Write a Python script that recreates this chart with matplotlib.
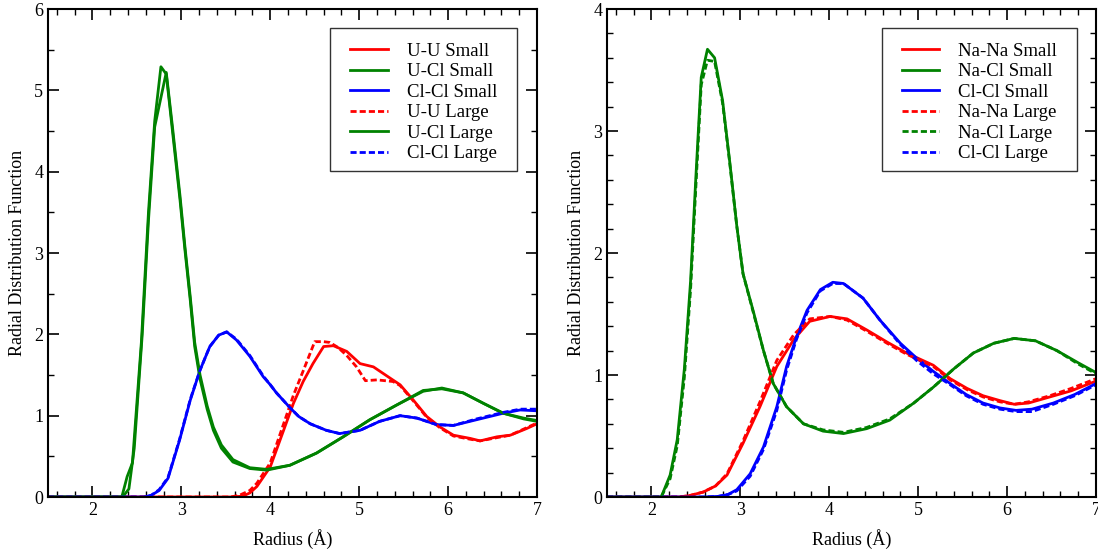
import matplotlib
matplotlib.use("Agg")
import matplotlib.pyplot as plt
from matplotlib.patches import Rectangle
from matplotlib.ticker import MultipleLocator

RED = "#ff0000"
GREEN = "#008200"
BLUE = "#0000ff"

# ---- left panel: UCl3 ----
r_uu_s = [1.5, 3.55, 3.69, 3.77, 3.85, 4.0, 4.15, 4.26, 4.37, 4.48, 4.60, 4.71, 4.86, 5.01, 5.16, 5.35, 5.46,
          5.61, 5.76, 5.91, 6.06, 6.25, 6.36, 6.55, 6.70, 6.88, 7.0]
g_uu_s = [0, 0, 0.01, 0.05, 0.13, 0.37, 0.82, 1.15, 1.42, 1.64, 1.85, 1.86, 1.79, 1.64, 1.60, 1.46, 1.38,
          1.19, 0.99, 0.86, 0.76, 0.72, 0.69, 0.74, 0.76, 0.84, 0.90]
r_uu_l = [1.5, 3.55, 3.65, 3.77, 3.85, 4.0, 4.15, 4.26, 4.37, 4.50, 4.60, 4.67, 4.76, 4.86, 4.97, 5.07, 5.20,
          5.38, 5.46, 5.61, 5.76, 5.91, 6.06, 6.25, 6.36, 6.55, 6.70, 6.88, 7.0]
g_uu_l = [0, 0, 0.02, 0.08, 0.17, 0.42, 0.90, 1.25, 1.55, 1.91, 1.91, 1.90, 1.84, 1.74, 1.60, 1.43, 1.44,
          1.42, 1.37, 1.18, 0.98, 0.85, 0.75, 0.71, 0.69, 0.73, 0.76, 0.85, 0.91]

r_ucl_s = [1.5, 2.33, 2.39, 2.45, 2.55, 2.63, 2.70, 2.77, 2.83, 2.90, 2.985, 3.04, 3.10, 3.15, 3.21, 3.29,
           3.36, 3.45, 3.58, 3.77, 3.96, 4.22, 4.52, 4.82, 5.12, 5.42, 5.72, 5.93, 6.17, 6.40, 6.62, 6.85, 7.0]
g_ucl_s = [0, 0, 0.25, 0.42, 1.90, 3.50, 4.62, 5.29, 5.20, 4.50, 3.65, 3.04, 2.42, 1.85, 1.45, 1.08,
           0.82, 0.60, 0.43, 0.35, 0.33, 0.39, 0.54, 0.74, 0.95, 1.13, 1.30, 1.34, 1.28, 1.15, 1.03, 0.97, 0.94]
r_ucl_l = [1.5, 2.34, 2.41, 2.47, 2.56, 2.63, 2.70, 2.83, 2.90, 2.985, 3.04, 3.10, 3.15, 3.21, 3.29,
           3.36, 3.45, 3.58, 3.77, 3.96, 4.22, 4.52, 4.82, 5.12, 5.42, 5.72, 5.93, 6.17, 6.40, 6.62, 6.85, 7.0]
g_ucl_l = [0, 0, 0.10, 0.60, 2.00, 3.40, 4.55, 5.22, 4.55, 3.70, 3.08, 2.46, 1.90, 1.50, 1.12,
           0.86, 0.64, 0.46, 0.36, 0.34, 0.39, 0.54, 0.74, 0.95, 1.13, 1.31, 1.33, 1.28, 1.15, 1.03, 0.96, 0.93]

r_clcl_u_s = [1.5, 2.58, 2.66, 2.75, 2.85, 2.98, 3.10, 3.21, 3.32, 3.42, 3.51, 3.62, 3.77, 3.92, 4.0, 4.07,
              4.22, 4.32, 4.45, 4.63, 4.78, 5.01, 5.23, 5.46, 5.65, 5.87, 6.06, 6.32, 6.62, 6.81, 7.0]
g_clcl_u_s = [0, 0, 0.02, 0.08, 0.23, 0.70, 1.19, 1.56, 1.85, 1.99, 2.03, 1.93, 1.73, 1.48, 1.38, 1.28,
              1.10, 0.99, 0.90, 0.82, 0.78, 0.82, 0.93, 1.00, 0.97, 0.89, 0.88, 0.95, 1.03, 1.07, 1.06]
g_clcl_u_l = [0, 0, 0.02, 0.09, 0.24, 0.71, 1.20, 1.56, 1.85, 1.99, 2.03, 1.94, 1.74, 1.49, 1.38, 1.28,
              1.10, 0.99, 0.90, 0.82, 0.78, 0.82, 0.93, 1.00, 0.97, 0.89, 0.88, 0.96, 1.04, 1.08, 1.08]

# ---- right panel: NaCl ----
r_nana_s = [1.5, 2.30, 2.42, 2.58, 2.72, 2.85, 3.03, 3.22, 3.41, 3.60, 3.78, 4.01, 4.20, 4.42, 4.65, 4.87,
            5.17, 5.36, 5.55, 5.73, 5.92, 6.08, 6.24, 6.48, 6.72, 7.0]
g_nana_s = [0, 0, 0.01, 0.04, 0.09, 0.18, 0.44, 0.74, 1.07, 1.29, 1.44, 1.48, 1.46, 1.37, 1.27, 1.18,
            1.08, 0.97, 0.89, 0.83, 0.79, 0.76, 0.77, 0.82, 0.87, 0.95]
g_nana_l = [0, 0, 0.01, 0.04, 0.09, 0.19, 0.46, 0.78, 1.12, 1.33, 1.46, 1.48, 1.45, 1.36, 1.26, 1.17,
            1.07, 0.96, 0.88, 0.82, 0.78, 0.76, 0.78, 0.83, 0.89, 0.97]

r_nacl_s = [1.5, 2.11, 2.21, 2.29, 2.37, 2.44, 2.50, 2.56, 2.63, 2.71, 2.80, 2.88, 2.96, 3.03, 3.15, 3.26,
            3.37, 3.52, 3.71, 3.93, 4.16, 4.42, 4.68, 4.95, 5.17, 5.40, 5.62, 5.85, 6.08, 6.32,
            6.56, 6.80, 7.0]
g_nacl_s = [0, 0, 0.18, 0.47, 1.05, 1.77, 2.63, 3.44, 3.67, 3.60, 3.25, 2.75, 2.22, 1.83, 1.51, 1.20,
            0.93, 0.74, 0.60, 0.54, 0.52, 0.56, 0.63, 0.77, 0.90, 1.05, 1.18, 1.26, 1.30, 1.28,
            1.20, 1.10, 1.02]
g_nacl_l = [0, 0, 0.15, 0.42, 0.98, 1.70, 2.55, 3.38, 3.58, 3.57, 3.23, 2.74, 2.22, 1.83, 1.50, 1.20,
            0.93, 0.74, 0.60, 0.55, 0.53, 0.57, 0.64, 0.77, 0.90, 1.05, 1.18, 1.26, 1.30, 1.28,
            1.20, 1.09, 1.01]

r_clcl_n_s = [1.5, 2.60, 2.75, 2.86, 2.96, 3.11, 3.26, 3.41, 3.52, 3.63, 3.75, 3.90, 4.04, 4.16, 4.38, 4.57,
              4.80, 4.98, 5.17, 5.36, 5.54, 5.73, 5.92, 6.10, 6.28, 6.52, 6.76, 7.0]
g_clcl_n_s = [0, 0, 0.005, 0.02, 0.06, 0.19, 0.41, 0.74, 1.07, 1.31, 1.53, 1.70, 1.76, 1.75, 1.63, 1.45,
              1.26, 1.14, 1.03, 0.93, 0.84, 0.77, 0.73, 0.71, 0.72, 0.77, 0.84, 0.93]
g_clcl_n_l = [0, 0, 0.005, 0.02, 0.05, 0.17, 0.39, 0.71, 1.04, 1.29, 1.51, 1.69, 1.75, 1.75, 1.63, 1.45,
              1.25, 1.12, 1.01, 0.92, 0.83, 0.76, 0.72, 0.70, 0.70, 0.76, 0.83, 0.92]

plt.rcParams['font.family'] = ['Liberation Serif', 'DejaVu Serif']
plt.rcParams['font.size'] = 12

DASH = (0, (2.2, 1.1))
LW = 2.0

fig = plt.figure(figsize=(10.98, 5.51), dpi=100)
ax1 = fig.add_axes([48/1098, 54/551, 489/1098, 488/551])
ax2 = fig.add_axes([607/1098, 54/551, 489/1098, 488/551])

ax1.plot(r_uu_s, g_uu_s, color=RED, lw=LW, label="U-U Small")
ax1.plot(r_ucl_s, g_ucl_s, color=GREEN, lw=LW, label="U-Cl Small")
ax1.plot(r_clcl_u_s, g_clcl_u_s, color=BLUE, lw=LW, label="Cl-Cl Small")
ax1.plot(r_uu_l, g_uu_l, color=RED, lw=LW, ls=DASH, label="U-U Large")
ax1.plot(r_ucl_l, g_ucl_l, color=GREEN, lw=LW, label="U-Cl Large")
ax1.plot(r_clcl_u_s, g_clcl_u_l, color=BLUE, lw=LW, ls=DASH, label="Cl-Cl Large")

ax2.plot(r_nana_s, g_nana_s, color=RED, lw=LW, label="Na-Na Small")
ax2.plot(r_nacl_s, g_nacl_s, color=GREEN, lw=LW, label="Na-Cl Small")
ax2.plot(r_clcl_n_s, g_clcl_n_s, color=BLUE, lw=LW, label="Cl-Cl Small")
ax2.plot(r_nana_s, g_nana_l, color=RED, lw=LW, ls=DASH, label="Na-Na Large")
ax2.plot(r_nacl_s, g_nacl_l, color=GREEN, lw=LW, ls=DASH, label="Na-Cl Large")
ax2.plot(r_clcl_n_s, g_clcl_n_l, color=BLUE, lw=LW, ls=DASH, label="Cl-Cl Large")

# legend box (x0, width) and where the handles start, in axes fractions
panels = [(ax1, 6, 0.5, 0.5767, 0.3824, 0.6176),
          (ax2, 4, 0.2, 0.5616, 0.3996, 0.6025)]
for ax, ymax, ymin_step, bx, bw, hx in panels:
    ax.set_xlim(1.5, 7)
    ax.set_ylim(0, ymax)
    ax.xaxis.set_major_locator(MultipleLocator(1))
    ax.xaxis.set_minor_locator(MultipleLocator(0.2))
    ax.yaxis.set_major_locator(MultipleLocator(1))
    ax.yaxis.set_minor_locator(MultipleLocator(ymin_step))
    ax.tick_params(which='both', direction='in', top=True, right=True, labelsize=13)
    ax.tick_params(which='major', length=8, width=1.2)
    ax.tick_params(which='minor', length=4, width=1.0)
    for sp in ax.spines.values():
        sp.set_linewidth(1.5)
    ax.set_xlabel("Radius (Å)", fontsize=13, labelpad=7)
    ax.set_ylabel("Radial Distribution Function", fontsize=13, labelpad=6)
    ax.add_patch(Rectangle((bx, 0.668), bw, 0.293, transform=ax.transAxes,
                           facecolor='white', edgecolor='#333333', lw=1.0, zorder=4))
    ax.legend(loc='upper left', bbox_to_anchor=(hx, 0.931), fontsize=13.5,
              handlelength=2.0, handletextpad=1.03, labelspacing=0.18,
              borderpad=0, borderaxespad=0, frameon=False)

fig.savefig("out.png", dpi=100)
